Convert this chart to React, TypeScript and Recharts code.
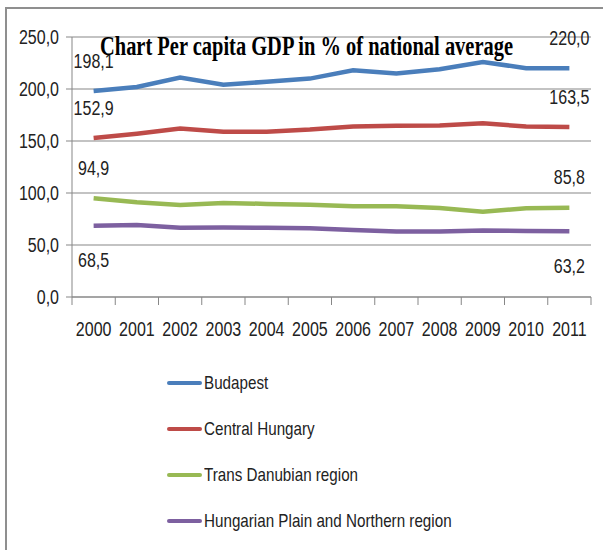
import { CartesianGrid, Legend, LabelList, Line, LineChart, XAxis, YAxis } from 'recharts'

const years = ['2000', '2001', '2002', '2003', '2004', '2005', '2006', '2007', '2008', '2009', '2010', '2011']
const budapest = [198.1, 202, 211, 204, 207, 210, 218, 215, 219, 226, 220, 220.0]
const centralHungary = [152.9, 157, 162, 159, 159, 161, 164, 164.7, 165, 167, 164, 163.5]
const transDanubian = [94.9, 91, 88.5, 90.5, 89.5, 88.7, 87.3, 87.2, 85.6, 82, 85.3, 85.8]
const plainNorth = [68.5, 69.3, 66.6, 66.8, 66.5, 66, 64.4, 63.1, 63, 64, 63.5, 63.2]
const yTicks = [0, 50, 100, 150, 200, 250]

const series = [
  { key: 'budapest', name: 'Budapest', color: '#4a7ebb', labelDy: -30 },
  { key: 'central', name: 'Central Hungary', color: '#be4b48', labelDy: -30 },
  { key: 'trans', name: 'Trans Danubian region', color: '#98b954', labelDy: -30 },
  { key: 'plain', name: 'Hungarian Plain and Northern region', color: '#7d60a0', labelDy: 35 },
]

const data = years.map((year, i) => ({
  year,
  budapest: budapest[i],
  central: centralHungary[i],
  trans: transDanubian[i],
  plain: plainNorth[i],
}))

// no narrow font installed, so squeeze Liberation Sans horizontally
const FONT = "'Liberation Sans', Arial, sans-serif"
const SQUEEZE = 0.8
const GRID = '#878787'
const fmt = (v: number) => v.toFixed(1).replace('.', ',')

function NarrowText({ x, y, anchor = 'middle', children }: any) {
  return (
    <text
      transform={`translate(${x},${y}) scale(${SQUEEZE},1)`}
      textAnchor={anchor}
      dominantBaseline="central"
      fill="#222"
      fontSize={20}
      fontFamily={FONT}
    >
      {children}
    </text>
  )
}

// x ticks: label in the middle of the band, tick marks on the band edges
function YearTick({ x, y, payload, index }: any) {
  const half = payload.offset ?? 0
  return (
    <g>
      <line x1={x - half} x2={x - half} y1={y - 8} y2={y} stroke={GRID} />
      {index === years.length - 1 && <line x1={x + half} x2={x + half} y1={y - 8} y2={y} stroke={GRID} />}
      <NarrowText x={x} y={y + 24}>
        {payload.value}
      </NarrowText>
    </g>
  )
}

function ValueTick({ x, y, payload }: any) {
  return (
    <NarrowText x={x} y={y} anchor="end">
      {fmt(payload.value)}
    </NarrowText>
  )
}

// only first and last point get a value label
const endLabel = (dy: number) => (props: any) => {
  const { x, y, value, index } = props
  if (index !== 0 && index !== years.length - 1) return null
  return (
    <NarrowText x={x} y={y + dy}>
      {fmt(value)}
    </NarrowText>
  )
}

function LegendList() {
  return (
    <div style={{ fontFamily: FONT, fontSize: 19, color: '#222', whiteSpace: 'nowrap' }}>
      {series.map((s) => (
        <div key={s.key} style={{ display: 'flex', alignItems: 'center', height: 46 }}>
          <span style={{ width: 35, height: 4, borderRadius: 2, background: s.color, marginRight: 2 }} />
          <span style={{ display: 'inline-block', transform: `scaleX(${SQUEEZE})`, transformOrigin: 'left center' }}>
            {s.name}
          </span>
        </div>
      ))}
    </div>
  )
}

export default function App() {
  return (
    <div style={{ position: 'absolute', left: 0, top: 0, width: 603, height: 550, background: '#fff' }}>
      <div
        style={{
          position: 'absolute',
          left: 5,
          top: 7,
          width: 598,
          height: 543,
          borderLeft: '2px solid #8f8f8f',
          borderTop: '2px solid #8f8f8f',
        }}
      />
      <LineChart width={603} height={550} data={data} margin={{ top: 37, right: 12, left: 12, bottom: 203 }}>
        <CartesianGrid vertical={false} stroke={GRID} />
        <XAxis
          dataKey="year"
          scale="band"
          height={50}
          axisLine={{ stroke: GRID }}
          tickLine={false}
          tick={<YearTick />}
          interval={0}
        />
        <YAxis
          domain={[0, 250]}
          ticks={yTicks}
          width={60}
          axisLine={{ stroke: GRID }}
          tickLine={{ stroke: GRID }}
          tickSize={6}
          tickMargin={7}
          tick={<ValueTick />}
        />
        <Legend
          layout="vertical"
          align="center"
          verticalAlign="middle"
          wrapperStyle={{ left: 167, top: 360, width: 400 }}
          content={<LegendList />}
        />
        {series.map((s) => (
          <Line
            key={s.key}
            type="linear"
            dataKey={s.key}
            name={s.name}
            stroke={s.color}
            strokeWidth={4.5}
            dot={false}
            isAnimationActive={false}
          >
            <LabelList dataKey={s.key} content={endLabel(s.labelDy)} />
          </Line>
        ))}
      </LineChart>
      <svg width={603} height={80} style={{ position: 'absolute', left: 0, top: 0, pointerEvents: 'none' }}>
        <text
          x={100}
          y={55}
          textLength={413}
          lengthAdjust="spacingAndGlyphs"
          fontFamily="'Liberation Serif', 'Times New Roman', serif"
          fontWeight="bold"
          fontSize={27}
          fill="#000"
        >
          Chart  Per capita GDP in % of national average
        </text>
      </svg>
    </div>
  )
}
